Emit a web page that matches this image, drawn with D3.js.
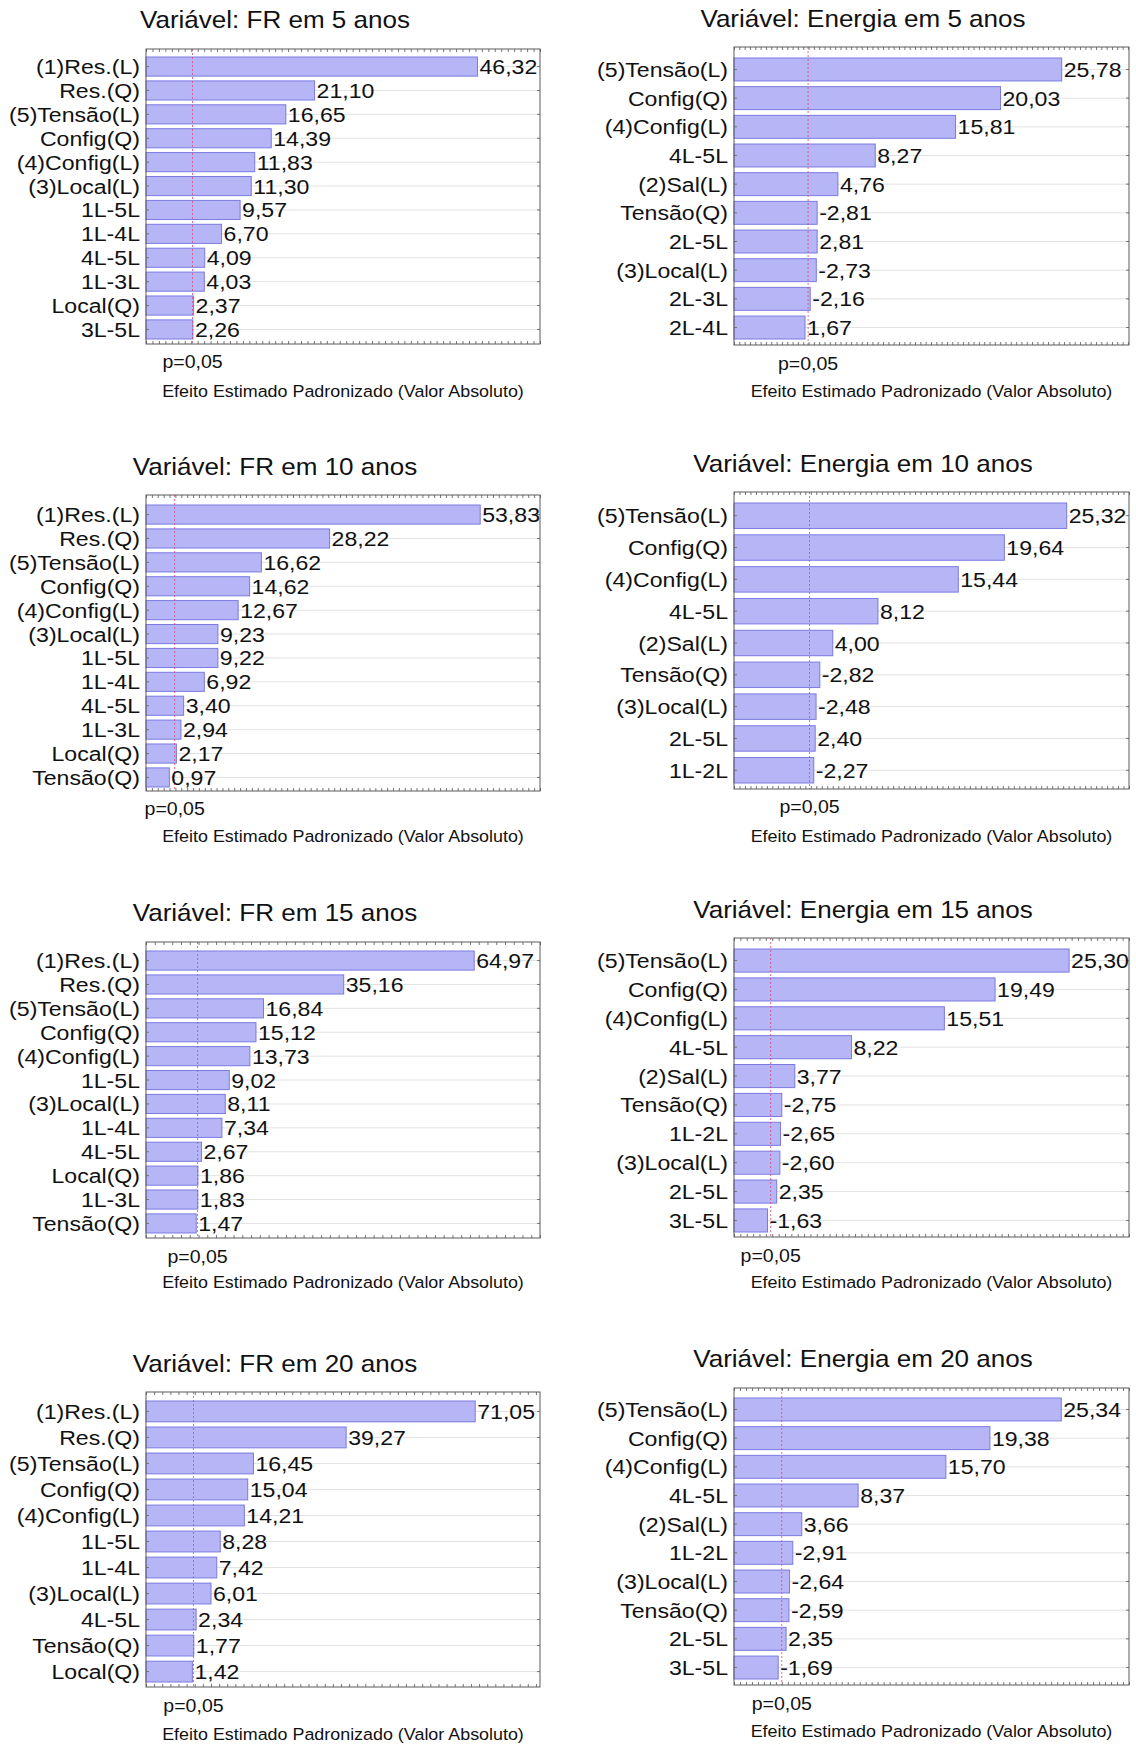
<!DOCTYPE html>
<html>
<head>
<meta charset="utf-8">
<script src="https://cdn.jsdelivr.net/npm/d3@7"></script>
<style>
  body { margin: 0; background: #fff; }
  svg text { font-family: "Liberation Sans", Arial, sans-serif; fill: #111; }
</style>
</head>
<body>
<svg id="chart" width="1136" height="1744"></svg>
<script>
// effects (signed, bars use the absolute value)
const fr5Labels = ["(1)Res.(L)", "Res.(Q)", "(5)Tensão(L)", "Config(Q)", "(4)Config(L)", "(3)Local(L)", "1L-5L", "1L-4L", "4L-5L", "1L-3L", "Local(Q)", "3L-5L"];
const fr5Values = [46.32, 21.10, 16.65, 14.39, 11.83, 11.30, 9.57, 6.70, 4.09, 4.03, 2.37, 2.26];

const en5Labels = ["(5)Tensão(L)", "Config(Q)", "(4)Config(L)", "4L-5L", "(2)Sal(L)", "Tensão(Q)", "2L-5L", "(3)Local(L)", "2L-3L", "2L-4L"];
const en5Values = [25.78, 20.03, 15.81, 8.27, 4.76, -2.81, 2.81, -2.73, -2.16, 1.67];

const fr10Labels = ["(1)Res.(L)", "Res.(Q)", "(5)Tensão(L)", "Config(Q)", "(4)Config(L)", "(3)Local(L)", "1L-5L", "1L-4L", "4L-5L", "1L-3L", "Local(Q)", "Tensão(Q)"];
const fr10Values = [53.83, 28.22, 16.62, 14.62, 12.67, 9.23, 9.22, 6.92, 3.40, 2.94, 2.17, 0.97];

const en10Labels = ["(5)Tensão(L)", "Config(Q)", "(4)Config(L)", "4L-5L", "(2)Sal(L)", "Tensão(Q)", "(3)Local(L)", "2L-5L", "1L-2L"];
const en10Values = [25.32, 19.64, 15.44, 8.12, 4.00, -2.82, -2.48, 2.40, -2.27];

const fr15Labels = ["(1)Res.(L)", "Res.(Q)", "(5)Tensão(L)", "Config(Q)", "(4)Config(L)", "1L-5L", "(3)Local(L)", "1L-4L", "4L-5L", "Local(Q)", "1L-3L", "Tensão(Q)"];
const fr15Values = [64.97, 35.16, 16.84, 15.12, 13.73, 9.02, 8.11, 7.34, 2.67, 1.86, 1.83, 1.47];

const en15Labels = ["(5)Tensão(L)", "Config(Q)", "(4)Config(L)", "4L-5L", "(2)Sal(L)", "Tensão(Q)", "1L-2L", "(3)Local(L)", "2L-5L", "3L-5L"];
const en15Values = [25.30, 19.49, 15.51, 8.22, 3.77, -2.75, -2.65, -2.60, 2.35, -1.63];

const fr20Labels = ["(1)Res.(L)", "Res.(Q)", "(5)Tensão(L)", "Config(Q)", "(4)Config(L)", "1L-5L", "1L-4L", "(3)Local(L)", "4L-5L", "Tensão(Q)", "Local(Q)"];
const fr20Values = [71.05, 39.27, 16.45, 15.04, 14.21, 8.28, 7.42, 6.01, 2.34, 1.77, 1.42];

const en20Labels = ["(5)Tensão(L)", "Config(Q)", "(4)Config(L)", "4L-5L", "(2)Sal(L)", "1L-2L", "(3)Local(L)", "Tensão(Q)", "2L-5L", "3L-5L"];
const en20Values = [25.34, 19.38, 15.70, 8.37, 3.66, -2.91, -2.64, -2.59, 2.35, -1.69];

const titles = ["Variável: FR em 5 anos", "Variável: Energia em 5 anos",
                "Variável: FR em 10 anos", "Variável: Energia em 10 anos",
                "Variável: FR em 15 anos", "Variável: Energia em 15 anos",
                "Variável: FR em 20 anos", "Variável: Energia em 20 anos"];
const pCrit = [2.2, 1.96, 1.88, 1.88, 1.78, 1.88, 1.69, 1.99];   // p=0,05 line
const axisMin = [-5, -5, -3, -5, -10, -1, -10, -2];
const axisMax = [56, 32.1, 64, 31, 80, 30, 87, 31];
const pLabel = "p=0,05";
const axisTitle = "Efeito Estimado Padronizado (Valor Absoluto)";

const allLabels = [fr5Labels, en5Labels, fr10Labels, en10Labels, fr15Labels, en15Labels, fr20Labels, en20Labels];
const allValues = [fr5Values, en5Values, fr10Values, en10Values, fr15Values, en15Values, fr20Values, en20Values];

// panel geometry (frame, bar band, text baselines)
const cols = [
    { x0: 146, x1: 540, tx: 275 },
    { x0: 734, x1: 1129, tx: 863 }
];
const rows = [
    { ty: 28,   y0: 49,   y1: 344,  b0: 57,   b1: 339,  py: 368,  ay: 397 },
    { ty: 27,   y0: 47,   y1: 345,  b0: 58,   b1: 339,  py: 370,  ay: 397 },
    { ty: 475,  y0: 495,  y1: 791,  b0: 505,  b1: 787,  py: 815,  ay: 842 },
    { ty: 472,  y0: 492,  y1: 789,  b0: 503,  b1: 783,  py: 813,  ay: 842 },
    { ty: 921,  y0: 942,  y1: 1238, b0: 951,  b1: 1233, py: 1263, ay: 1288 },
    { ty: 918,  y0: 938,  y1: 1237, b0: 949,  b1: 1232, py: 1262, ay: 1288 },
    { ty: 1372, y0: 1392, y1: 1687, b0: 1401, b1: 1682, py: 1712, ay: 1740 },
    { ty: 1367, y0: 1388, y1: 1685, b0: 1398, b1: 1679, py: 1710, ay: 1737 }
];

const fmt = v => v.toFixed(2).replace(".", ",");

const svg = d3.select("#chart");

// the source text is a little wider than Arial, so stretch it horizontally
function wideText(g, x, y, str, size, anchor, sx) {
    return g.append("text")
        .attr("transform", `translate(${x},${y}) scale(${sx},1)`)
        .attr("text-anchor", anchor)
        .style("font-size", size + "px")
        .text(str);
}

titles.forEach((title, i) => {
    const c = cols[i % 2];
    const r = rows[i];
    const labels = allLabels[i];
    const values = allValues[i];
    const g = svg.append("g");

    const x = d3.scaleLinear().domain([axisMin[i], axisMax[i]]).range([c.x0, c.x1]);
    const y = d3.scaleBand().domain(labels).range([r.b0, r.b1]).paddingInner(0.2);
    const bw = y.bandwidth();

    // light horizontal grid at each bar
    g.selectAll("line.grid")
        .data(labels)
        .enter().append("line")
        .attr("class", "grid")
        .attr("x1", c.x0).attr("x2", c.x1)
        .attr("y1", d => y(d) + bw / 2).attr("y2", d => y(d) + bw / 2)
        .attr("stroke", "#e2e2e2")
        .attr("stroke-width", 1);

    g.selectAll("rect.bar")
        .data(values)
        .enter().append("rect")
        .attr("class", "bar")
        .attr("x", x(axisMin[i]))
        .attr("y", (d, j) => y(labels[j]))
        .attr("width", d => x(Math.abs(d)) - x(axisMin[i]))
        .attr("height", bw)
        .attr("fill", "#b6b6f7")
        .attr("stroke", "#7a7ae2")
        .attr("stroke-width", 1);

    // p=0,05 reference line
    g.append("line")
        .attr("x1", x(pCrit[i])).attr("x2", x(pCrit[i]))
        .attr("y1", r.y0).attr("y2", r.y1)
        .attr("stroke", "#e0487a")
        .attr("stroke-width", 1)
        .attr("stroke-dasharray", "2,2")
        .attr("opacity", 0.8);

    // frame ticks (inward, no labels)
    const nTicks = Math.round((c.x1 - c.x0) / 6.5);
    const tickStyle = sel => {
        sel.select(".domain").remove();
        sel.selectAll(".tick line").attr("stroke", "#777");
        sel.selectAll(".tick text").remove();
    };
    g.append("g").attr("transform", `translate(0,${r.y1})`)
        .call(d3.axisBottom(x).ticks(nTicks).tickSize(-3)).call(tickStyle);
    g.append("g").attr("transform", `translate(0,${r.y0})`)
        .call(d3.axisTop(x).ticks(nTicks).tickSize(-3)).call(tickStyle);
    g.append("g").attr("transform", `translate(${c.x0},0)`)
        .call(d3.axisLeft(y).tickSize(-3)).call(tickStyle);
    g.append("g").attr("transform", `translate(${c.x1},0)`)
        .call(d3.axisRight(y).tickSize(-3)).call(tickStyle);

    g.append("rect")
        .attr("x", c.x0).attr("y", r.y0)
        .attr("width", c.x1 - c.x0).attr("height", r.y1 - r.y0)
        .attr("fill", "none")
        .attr("stroke", "#5a5a5a")
        .attr("stroke-width", 1);

    // texts
    wideText(g, c.tx, r.ty, title, 24, "middle", 1.085);

    labels.forEach((lab, j) => {
        wideText(g, c.x0 - 6, y(lab) + bw / 2 + 7.5, lab, 21, "end", 1.1);
        wideText(g, x(Math.abs(values[j])) + 2, y(lab) + bw / 2 + 7.5, fmt(values[j]), 21, "start", 1.1);
    });

    wideText(g, x(pCrit[i]), r.py, pLabel, 18, "middle", 1.085);
    wideText(g, (c.x0 + c.x1) / 2, r.ay, axisTitle, 16.5, "middle", 1.085);
});
</script>
</body>
</html>
